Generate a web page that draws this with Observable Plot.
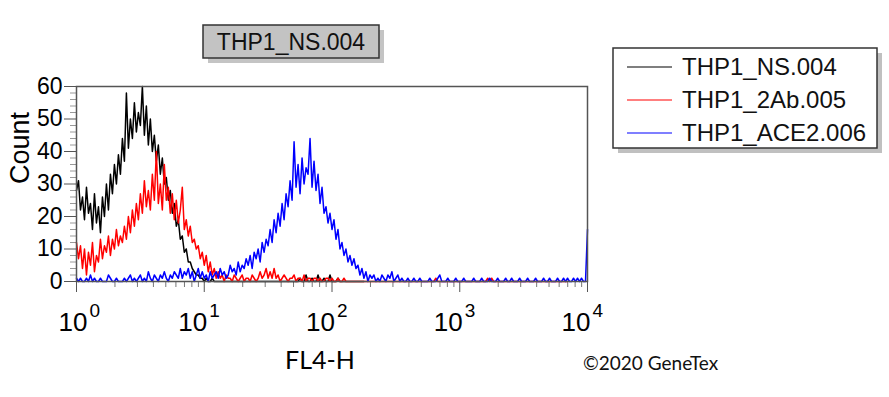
<!DOCTYPE html>
<html><head><meta charset="utf-8">
<script src="https://cdn.jsdelivr.net/npm/d3@7"></script>
<script src="https://cdn.jsdelivr.net/npm/@observablehq/plot@0.6"></script>
<style>body{margin:0;background:#fff;} svg{display:block;}</style>
</head><body><div id="chart"></div>
<script>
const seriesNames = ["THP1_NS.004", "THP1_2Ab.005", "THP1_ACE2.006"];
const seriesColors = ["#000000", "#ff0000", "#0000ff"];
const titleText = "THP1_NS.004";
const xLabel = "FL4-H";
const yLabel = "Count";
const credit = "©2020 GeneTex";
const binsPerDecade = 64; // histogram channel i sits at 10^(i/64)

const countsNS = [
  28,31,22,26,19,29,21,24,16,27, 18,23,15,26,20,30,22,33,27,36,
  30,39,33,44,37,58,41,50,44,55, 46,52,48,60,45,54,42,50,40,45,
  37,42,33,38,30,32,25,28,21,24, 17,19,13,14,9,10,6,6,4,3,
  2,2,1,1,0,1,0,0,1,0, 0,0,0,0,0,0,0,0,0,0,
  0,0,0,0,0,0,0,0,0,0, 0,0,0,0,0,0,0,0,0,0,
  0,0,0,0,0,0,0,0,0,0, 0,0,1,0,0,2,0,0,1,0,
  0,2,0,0,1,0,0,2,0,0, 0,1,0,0,0,0,0,0,0,0,
  0,0,0,0,0
];
const counts2Ab = [
  12,7,11,4,10,2,9,5,12,3, 8,6,13,7,11,9,14,8,13,10,
  16,11,14,12,17,13,20,15,22,17, 24,19,27,21,31,23,28,22,33,25,
  40,24,30,22,36,25,29,21,27,19, 25,18,22,29,16,19,14,17,12,13,
  10,11,7,9,5,8,3,6,2,4, 1,3,1,2,0,2,1,1,0,2,
  1,0,1,2,0,1,1,0,2,1, 0,1,3,1,2,4,1,3,1,4,
  1,2,0,1,2,1,0,1,1,2, 0,1,1,0,2,0,1,1,0,1,
  1,0,1,0,0,1,1,0,1,0, 0,1,0,0,1,0,0,0,0,0,
  0,0,0,0,0,0,0,0,0,0, 0,0,0,0,0,0,0,0,0,0,
  0,0,0,0,0,0,0,0,0,0, 0,0,0,0,0,0,0,0,0,0,
  1,0,0,0,0,0,0,0,0,0, 0,0,0,0,0,0,0,0,0,0,
  0,0,0,0,0,0,1,0,1,0, 0,0,0,0,0,0,0,0,0,0,
  0,0,0,0,0,0,0,0,0,0, 0,0,0,0,0,0,0,0,0,0,
  0,0,0,0,0,0,0
];
const countsACE2 = [
  1,0,1,0,0,1,0,2,0,1, 0,0,1,0,0,0,2,1,0,0,
  1,0,0,0,1,0,1,2,0,1, 0,1,2,0,1,0,3,1,0,2,
  1,0,2,1,3,1,0,2,1,3, 2,1,4,1,3,2,4,1,3,0,
  2,4,1,3,1,2,0,3,1,2, 3,1,4,2,3,1,2,5,3,4,
  2,6,3,5,4,7,5,8,4,9, 7,10,6,12,9,13,11,16,12,19,
  15,21,17,24,19,27,23,31,25,43, 29,36,27,38,30,35,33,44,29,37,
  28,33,24,29,21,23,18,21,16,19, 13,16,10,12,8,10,6,8,5,7,
  4,5,2,4,1,3,0,2,1,2, 0,1,0,2,1,0,2,1,3,0,
  1,2,0,1,0,0,1,0,0,1, 0,0,1,0,0,0,0,1,0,0,
  0,1,2,0,0,0,1,0,0,0, 1,0,0,0,1,0,0,0,0,1,
  0,0,0,1,0,0,0,1,0,0, 0,1,0,0,0,1,0,0,1,0,
  0,0,1,0,0,0,1,0,0,0, 1,0,0,0,1,0,0,1,0,0,
  0,1,0,0,1,0,1,0,0,1, 0,1,0,1,0,0,16
];

const yTicks = [0, 10, 20, 30, 40, 50, 60];
const xMajorTicks = [1, 10, 100, 1000, 10000];
const xTickBase = ["10", "10", "10", "10", "10"];
const xTickExponents = ["0", "1", "2", "3", "4"];
const minorMultipliers = [2, 3, 4, 5, 6, 7, 8, 9];

const seriesCounts = [countsNS, counts2Ab, countsACE2];
const rows = seriesCounts.flatMap((arr, s) =>
  arr.map((c, i) => ({series: seriesNames[s], x: Math.pow(10, i / binsPerDecade), count: c})));
const xMinorTicks = xMajorTicks.slice(0, -1).flatMap(d => minorMultipliers.map(m => m * d));
const yMinorTicks = d3.range(0, 61, 2).filter(v => v % 10 !== 0);

const sans = "'Liberation Sans', Arial, sans-serif";
const calibriLike = "Lato, 'Open Sans', sans-serif";
const plot = Plot.plot({
  width: 889, height: 397,
  marginLeft: 76, marginRight: 302, marginTop: 86, marginBottom: 116,
  style: {fontFamily: sans, background: "#fff", overflow: "visible", color: "#000"},
  x: {type: "log", domain: [1, 10000]},
  y: {domain: [0, 60]},
  color: {domain: seriesNames, range: seriesColors},
  marks: [
    Plot.axisY({ticks: yMinorTicks, tickSize: 6, tickFormat: () => "", label: null, stroke: "#999"}),
    Plot.axisY({ticks: yTicks, tickSize: 12, tickPadding: 2, fontSize: 23, label: null, stroke: "#555"}),
    Plot.axisX({ticks: xMinorTicks, tickSize: 6, tickFormat: () => "", label: null, stroke: "#777"}),
    Plot.axisX({ticks: xMajorTicks, tickSize: 11, tickFormat: () => "", label: null, stroke: "#555"}),
    Plot.text(xMajorTicks.slice(0, 1), {x: d => d, text: (d, i) => xTickBase[i], frameAnchor: "bottom", textAnchor: "end", lineAnchor: "middle", dx: 11, dy: 41, fontSize: 26}),
    Plot.text(xMajorTicks.slice(0, 1), {x: d => d, text: (d, i) => xTickExponents[i], frameAnchor: "bottom", textAnchor: "start", lineAnchor: "middle", dx: 13, dy: 29, fontSize: 19}),
    Plot.text(xMajorTicks.slice(1), {x: d => d, text: (d, i) => xTickBase[i + 1], frameAnchor: "bottom", textAnchor: "end", lineAnchor: "middle", dx: 3, dy: 41, fontSize: 26}),
    Plot.text(xMajorTicks.slice(1), {x: d => d, text: (d, i) => xTickExponents[i + 1], frameAnchor: "bottom", textAnchor: "start", lineAnchor: "middle", dx: 5, dy: 29, fontSize: 19}),
    Plot.text([yLabel], {text: d => d, frameAnchor: "left", rotate: -90, dx: -56, fontSize: 27}),
    Plot.text([xLabel], {text: d => d, frameAnchor: "bottom", dx: -12, dy: 87, fontSize: 25, fontFamily: calibriLike}),
    Plot.line(rows, {x: "x", y: "count", stroke: "series", strokeWidth: 1.5}),
    Plot.frame({stroke: "#555", strokeWidth: 1.5})
  ]
});
document.getElementById("chart").appendChild(plot);

const svg = d3.select(plot);
// title box
const tb = svg.append("g");
tb.append("rect").attr("x", 208).attr("y", 30).attr("width", 176).attr("height", 33).attr("fill", "#b5b5b5").attr("opacity", 0.8);
tb.append("rect").attr("x", 203).attr("y", 25).attr("width", 176).attr("height", 33).attr("fill", "#c3c3c3").attr("stroke", "#333").attr("stroke-width", 1.5);
tb.append("text").attr("x", 291).attr("y", 42).attr("dy", "0.35em").attr("text-anchor", "middle")
  .attr("font-size", 23).attr("font-family", sans).attr("fill", "#111").text(titleText);

// legend
const lg = svg.append("g");
lg.append("rect").attr("x", 618).attr("y", 53).attr("width", 264).attr("height", 100).attr("fill", "#b0b0b0").attr("opacity", 0.8);
lg.append("rect").attr("x", 613).attr("y", 48).attr("width", 264).attr("height", 100).attr("fill", "#fff").attr("stroke", "#333").attr("stroke-width", 1.5);
seriesNames.forEach((name, i) => {
  const y = 67 + i * 33;
  lg.append("line").attr("x1", 627).attr("x2", 672).attr("y1", y).attr("y2", y).attr("stroke", seriesColors[i]).attr("stroke-width", 1.2);
  lg.append("text").attr("x", 682).attr("y", y).attr("dy", "0.35em").attr("text-anchor", "start")
    .attr("font-size", 24).attr("font-family", sans).attr("fill", "#111").text(name);
});

// credit
svg.append("text").attr("x", 583).attr("y", 370).attr("text-anchor", "start").attr("font-size", 19)
  .attr("font-family", calibriLike).attr("fill", "#111").text(credit);
</script>
</body></html>
